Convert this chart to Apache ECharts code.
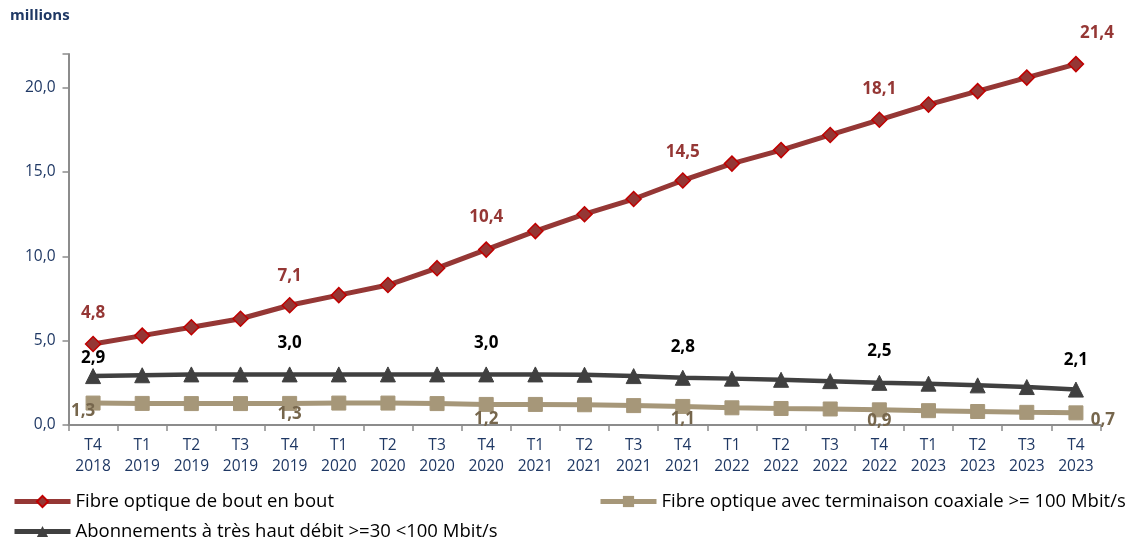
<!DOCTYPE html>
<html><head><meta charset="utf-8">
<script src="https://cdn.jsdelivr.net/npm/echarts@6/dist/echarts.min.js"></script>
<style>html,body{margin:0;padding:0;background:#fff}#c{width:1138px;height:538px}</style>
</head><body><div id="c"></div>
<script>
const quarters = ['T4','T1','T2','T3','T4','T1','T2','T3','T4','T1','T2','T3','T4','T1','T2','T3','T4','T1','T2','T3','T4'];
const years = ['2018','2019','2019','2019','2019','2020','2020','2020','2020','2021','2021','2021','2021','2022','2022','2022','2022','2023','2023','2023','2023'];
const fibreBoutEnBout = [4.8,5.3,5.8,6.3,7.1,7.7,8.3,9.3,10.4,11.5,12.5,13.4,14.5,15.5,16.3,17.2,18.1,19.0,19.8,20.6,21.4];
const thd30a100 = [2.9,2.95,3.0,3.0,3.0,3.0,3.0,3.0,3.0,3.0,2.98,2.9,2.8,2.75,2.68,2.6,2.5,2.45,2.35,2.25,2.1];
const fibreCoax = [1.3,1.28,1.27,1.27,1.28,1.3,1.3,1.27,1.22,1.22,1.2,1.15,1.1,1.02,0.98,0.95,0.9,0.85,0.8,0.75,0.72];
const labelIdx = [0,4,8,12,16,20];
const labelText = {
  fibre:['4,8','7,1','10,4','14,5','18,1','21,4'],
  thd:['2,9','3,0','3,0','2,8','2,5','2,1'],
  coax:['1,3','1,3','1,2','1,1','0,9','0,7']
};
const yTicks = [0,5,10,15,20];

const categories = quarters.map((q,i)=>q+'\n'+years[i]);
const fmt = v => v.toFixed(1).replace('.', ',');
const FONT = 'Open Sans';

function build(values, texts, color, offsets){
  return values.map((v,i)=>{
    const k = labelIdx.indexOf(i);
    if (k < 0) return v;
    return {value:v, label:{show:true, position:'inside', offset:offsets[k], formatter:()=>texts[k], color:color, fontWeight:'bold', fontSize:17, fontFamily:FONT}};
  });
}

const legendText = {fontFamily:FONT, fontSize:18.5, color:'#000'};
const chart = echarts.init(document.getElementById('c'), null, {renderer:'canvas'});
chart.setOption({
  animation:false,
  backgroundColor:'#fff',
  title:{text:'millions', left:10, top:8, padding:0, textStyle:{fontFamily:FONT, fontSize:15, fontWeight:'bold', color:'#1f3864'}},
  grid:{left:68.5, right:37.5, top:54, bottom:113, containLabel:false},
  xAxis:{type:'category', data:categories, boundaryGap:true,
    axisLine:{lineStyle:{color:'#8c8c8c', width:2}},
    axisTick:{show:true, alignWithLabel:false, length:6, lineStyle:{color:'#8c8c8c', width:1.5}},
    axisLabel:{interval:0, margin:10, fontFamily:FONT, fontSize:15.5, lineHeight:21, color:'#1f3864'}},
  yAxis:{type:'value', min:0, max:22, interval:5,
    splitLine:{show:false},
    axisLine:{show:true, lineStyle:{color:'#8c8c8c', width:2}},
    axisTick:{show:true, length:6, lineStyle:{color:'#8c8c8c', width:1.5}},
    axisLabel:{margin:13, fontFamily:FONT, fontSize:15.5, color:'#1f3864',
      formatter:v=> yTicks.indexOf(v)>=0 ? fmt(v) : ''}},
  legend:[
    {data:['Fibre optique de bout en bout'], left:12, top:492, padding:0, itemWidth:56, itemHeight:14, lineStyle:{width:5}, textStyle:legendText},
    {data:['Fibre optique avec terminaison coaxiale >= 100 Mbit/s'], left:598, top:492, padding:0, itemWidth:56, itemHeight:14, lineStyle:{width:5}, textStyle:legendText},
    {data:['Abonnements à très haut débit >=30 <100 Mbit/s'], left:12, top:522, padding:0, itemWidth:56, itemHeight:14, lineStyle:{width:5}, textStyle:legendText}
  ],
  series:[
    {name:'Fibre optique avec terminaison coaxiale >= 100 Mbit/s', type:'line', data:build(fibreCoax, labelText.coax,'#76664c',[[-10,8],[0,11],[0,15],[0,13],[0,11],[27,7]]),
      symbol:'rect', symbolSize:14, lineStyle:{color:'#a69779', width:5}, itemStyle:{color:'#a69779', borderColor:'#a69779'}, z:2},
    {name:'Abonnements à très haut débit >=30 <100 Mbit/s', type:'line', data:build(thd30a100, labelText.thd,'#000000',[[0,-18],[0,-31],[0,-31],[0,-31],[0,-32],[0,-29]]),
      symbol:'triangle', symbolSize:15, lineStyle:{color:'#404040', width:4.5}, itemStyle:{color:'#404040', borderColor:'#404040'}, z:3},
    {name:'Fibre optique de bout en bout', type:'line', data:build(fibreBoutEnBout, labelText.fibre,'#953735',[[0,-31],[0,-29],[0,-32],[0,-28],[0,-31],[21,-31]]),
      symbol:'diamond', symbolSize:15, lineStyle:{color:'#953735', width:5}, itemStyle:{color:'#953735', borderColor:'#c00000', borderWidth:1.5}, z:4}
  ]
});
</script></body></html>
